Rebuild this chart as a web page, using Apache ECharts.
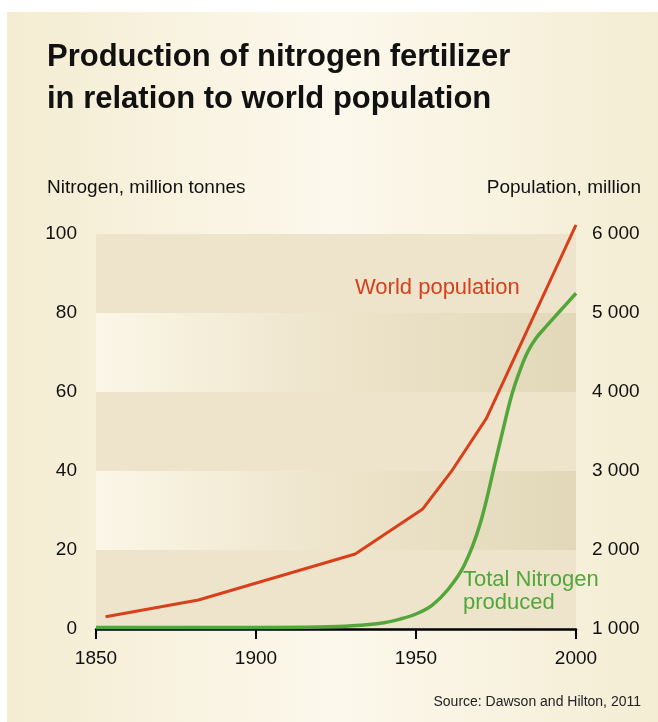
<!DOCTYPE html>
<html>
<head>
<meta charset="utf-8">
<script src="https://cdn.jsdelivr.net/npm/echarts@6/dist/echarts.min.js"></script>
<style>
  html, body { margin: 0; padding: 0; background: #fff; }
  #chart { width: 658px; height: 722px; }
</style>
</head>
<body>
<div id="chart"></div>
<script>
// data
const popYears = [1853, 1882, 1931, 1952, 1961, 1972, 2000]
const population = [1156, 1367, 1950, 2515, 2991, 3667, 6115]
const nitroYears = [1850, 1900, 1920, 1930, 1940, 1945, 1950, 1955, 1960, 1965, 1970, 1975, 1977.5, 1980, 1982.5, 1985, 1987.5, 1990, 1995, 2000]
const nitrogen = [0.4, 0.4, 0.5, 0.8, 1.6, 2.5, 3.8, 6, 10, 16, 26.5, 43, 51.5, 59.5, 65.5, 70.3, 73.6, 76, 80.5, 85]
const yearTicks = [1850, 1900, 1950, 2000]
const nitroTicks = [0, 20, 40, 60, 80, 100]
const popTicks = [1000, 2000, 3000, 4000, 5000, 6000]

const font = 'Liberation Sans, Arial, Helvetica, sans-serif'
const red = '#d8401c'
const green = '#52a63a'

const chart = echarts.init(document.getElementById('chart'), null, { renderer: 'canvas' })

const lightBand = new echarts.graphic.LinearGradient(0, 0, 1, 0, [
  { offset: 0, color: '#fbf6e7' },
  { offset: 0.5, color: '#ede4cb' },
  { offset: 1, color: '#e2d8b9' }
])

const option = {
  animation: false,
  backgroundColor: '#ffffff',
  textStyle: { fontFamily: font },
  title: {
    text: 'Production of nitrogen fertilizer\nin relation to world population',
    left: 47,
    top: 36,
    padding: 0,
    textStyle: { fontFamily: font, fontSize: 31, fontWeight: 'bold', color: '#111', lineHeight: 42 }
  },
  graphic: [
    {
      type: 'rect',
      z: -100,
      silent: true,
      shape: { x: 7, y: 12, width: 651, height: 710 },
      style: {
        fill: new echarts.graphic.LinearGradient(0, 0, 1, 0, [
          { offset: 0, color: '#f4ecd2' },
          { offset: 0.5, color: '#fcf8ec' },
          { offset: 1, color: '#f4edd4' }
        ])
      }
    },
    {
      type: 'text', left: 47, top: 178, z: 100,
      style: { text: 'Nitrogen, million tonnes', font: '19px ' + font, fill: '#111' }
    },
    {
      type: 'text', right: 17, top: 178, z: 100,
      style: { text: 'Population, million', font: '19px ' + font, fill: '#111' }
    },
    {
      type: 'text', left: 355, top: 277, z: 100,
      style: { text: 'World population', font: '22px ' + font, fill: red }
    },
    {
      type: 'text', left: 463, top: 568, z: 100,
      style: { text: 'Total Nitrogen\nproduced', font: '22px ' + font, fill: green, lineHeight: 23 }
    },
    {
      type: 'text', right: 17, top: 695, z: 100,
      style: { text: 'Source: Dawson and Hilton, 2011', font: '14px ' + font, fill: '#222' }
    }
  ],
  grid: { left: 96, right: 82, top: 234, bottom: 93, containLabel: false },
  xAxis: {
    type: 'value',
    min: yearTicks[0],
    max: yearTicks[yearTicks.length - 1],
    interval: 50,
    axisLine: { show: true, lineStyle: { color: '#000', width: 2.5 } },
    axisTick: { show: true, length: 10, lineStyle: { color: '#000', width: 2 } },
    axisLabel: { color: '#111', fontSize: 19, margin: 20, fontFamily: font, formatter: v => String(v) },
    splitLine: { show: false }
  },
  yAxis: [
    {
      type: 'value',
      min: nitroTicks[0],
      max: nitroTicks[nitroTicks.length - 1],
      interval: 20,
      axisLine: { show: false },
      axisTick: { show: false },
      axisLabel: { color: '#111', fontSize: 19, margin: 19, fontFamily: font },
      splitLine: { show: false },
      splitArea: { show: true, areaStyle: { color: ['#ede4cb', lightBand] } }
    },
    {
      type: 'value',
      position: 'right',
      min: popTicks[0],
      max: popTicks[popTicks.length - 1],
      interval: 1000,
      axisLine: { show: false },
      axisTick: { show: false },
      axisLabel: {
        color: '#111', fontSize: 19, margin: 16, fontFamily: font,
        formatter: v => String(v).replace(/\B(?=(\d{3})+(?!\d))/g, ' ')
      },
      splitLine: { show: false }
    }
  ],
  series: [
    {
      name: 'Total Nitrogen produced',
      type: 'line',
      yAxisIndex: 0,
      data: nitroYears.map((y, i) => [y, nitrogen[i]]),
      smooth: 0.35,
      showSymbol: false,
      clip: false,
      z: 3,
      lineStyle: { color: green, width: 3.5 }
    },
    {
      name: 'World population',
      type: 'line',
      yAxisIndex: 1,
      data: popYears.map((y, i) => [y, population[i]]),
      showSymbol: false,
      clip: false,
      z: 4,
      lineStyle: { color: red, width: 3 }
    }
  ]
}

chart.setOption(option)
</script>
</body>
</html>
